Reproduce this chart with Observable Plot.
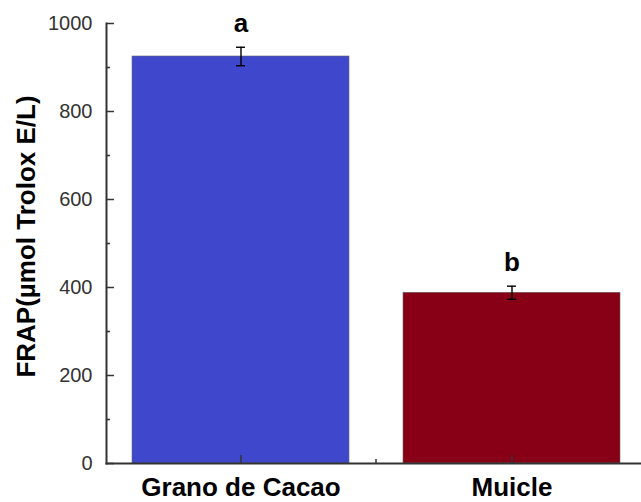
<!DOCTYPE html>
<html>
<head>
<meta charset="utf-8">
<script src="https://cdn.jsdelivr.net/npm/d3@7"></script>
<script src="https://cdn.jsdelivr.net/npm/@observablehq/plot@0.6"></script>
<style>
  html, body { margin: 0; padding: 0; background: #fff; }
  #chart svg { display: block; }
</style>
</head>
<body>
<div id="chart"></div>
<script>
const categories = ["Grano de Cacao", "Muicle"];
const means = [925, 388];
const errors = [21, 15];
const letters = ["a", "b"];
const colors = ["#3F48CC", "#880015"];
const yTicks = [0, 200, 400, 600, 800, 1000];
const yMinorTicks = [100, 300, 500, 700, 900];
const yLabel = "FRAP(µmol Trolox E/L)";

const data = categories.map((c, i) => ({
  cat: c, mean: means[i], lo: means[i] - errors[i], hi: means[i] + errors[i], letter: letters[i], color: colors[i]
}));

const font = "Liberation Sans, Arial, sans-serif";

// minor x tick between categories, computed from the band scale
function midTick(index, scales, values, dimensions) {
  const x = scales.x;
  const bw = x.bandwidth ? x.bandwidth() : 0;
  const a = x(categories[0]) + bw / 2;
  const b = x(categories[1]) + bw / 2;
  const m = (a + b) / 2;
  const y0 = dimensions.height - dimensions.marginBottom;
  const g = d3.create("svg:line")
    .attr("x1", m).attr("x2", m)
    .attr("y1", y0).attr("y2", y0 - 4)
    .attr("stroke", "#333").attr("stroke-width", 1.5);
  return g.node();
}

const chart = Plot.plot({
  width: 641,
  height: 502,
  marginLeft: 106,
  marginRight: 0,
  marginTop: 23,
  marginBottom: 39,
  style: { fontFamily: font, background: "#fff", overflow: "visible" },
  x: { domain: categories, paddingInner: 0.2, paddingOuter: 0.0835, align: 0.55 },
  y: { domain: [0, 1000] },
  color: { domain: categories, range: colors },
  marks: [
    Plot.barY(data, { x: "cat", y: "mean", fill: "cat", stroke: "#666", strokeWidth: 0.6 }),
    Plot.ruleX(data, { x: "cat", y1: "lo", y2: "hi", stroke: "#000", strokeWidth: 1.4 }),
    Plot.tickY(data, { x: "cat", y: "lo", stroke: "#000", strokeWidth: 1.4, insetLeft: 104, insetRight: 104 }),
    Plot.tickY(data, { x: "cat", y: "hi", stroke: "#000", strokeWidth: 1.4, insetLeft: 104, insetRight: 104 }),
    Plot.text(data, { x: "cat", y: "hi", text: "letter", dy: -15, lineAnchor: "bottom", fontSize: 26, fontWeight: "bold", fill: "#000" }),
    // axes
    Plot.axisY({ ticks: yTicks, tickFormat: d3.format("d"), tickSize: 0, tickPadding: 14, fontSize: 20, color: "#333", label: null }),
    Plot.axisY({ ticks: yTicks, tickSize: -8, text: null, stroke: "#333", strokeWidth: 1.5, label: null }),
    Plot.axisY({ ticks: yMinorTicks, tickSize: -4, text: null, stroke: "#333", strokeWidth: 1.5, label: null }),
    Plot.axisX({ tickSize: 0, tickPadding: 14, fontSize: 26, fontWeight: "bold", color: "#000", label: null }),
    Plot.axisX({ tickSize: -8, text: null, stroke: "#333", strokeWidth: 1.5, label: null }),
    midTick,
    Plot.frame({ anchor: "left", stroke: "#333", strokeWidth: 2 }),
    Plot.frame({ anchor: "bottom", stroke: "#333", strokeWidth: 2 }),
    Plot.text([yLabel], { frameAnchor: "left", text: d => d, rotate: -90, textAnchor: "middle", lineAnchor: "middle", dx: -80, dy: -7, fontSize: 26, fontWeight: "bold", fill: "#000" })
  ]
});

document.getElementById("chart").appendChild(chart);
</script>
</body>
</html>
